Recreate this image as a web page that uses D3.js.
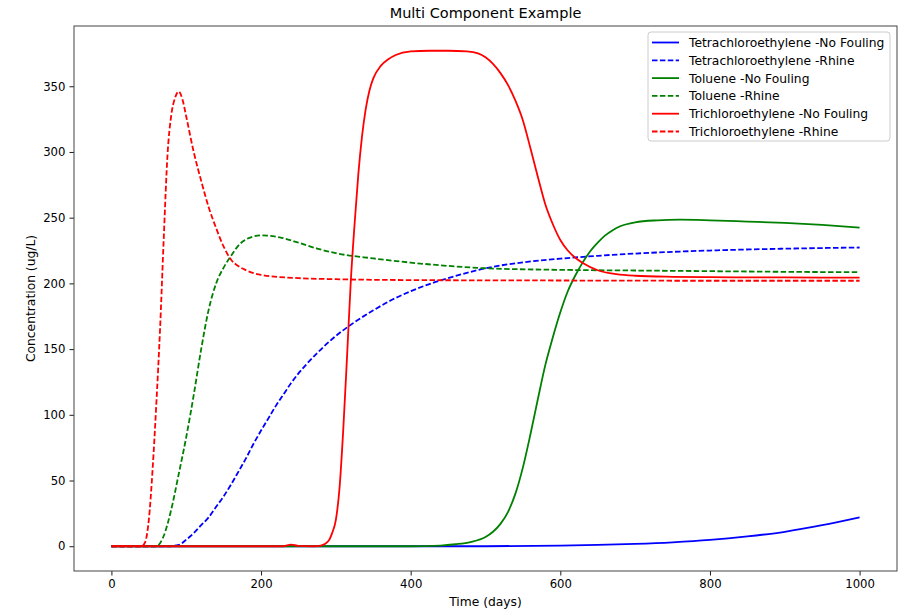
<!DOCTYPE html>
<html>
<head>
<meta charset="utf-8">
<script src="https://cdn.jsdelivr.net/npm/d3@7"></script>
<style>
  body { margin: 0; background: #fff; }
  text { font-family: "DejaVu Sans", sans-serif; fill: #000; }
</style>
</head>
<body>
<div id="chart"></div>
<script>
var svgWidth = 907;
var svgHeight = 610;

var margin = { top: 26, right: 10, bottom: 39, left: 74 };
var width = svgWidth - margin.left - margin.right;
var height = svgHeight - margin.top - margin.bottom;

// Series data (time in days, concentration in ug/L)
var tceRhineT = [0, 40, 45, 50, 55, 60, 65, 70, 75, 80, 85, 90, 95, 100, 110, 120, 130, 140, 150, 160, 170, 180, 200, 250, 300, 400, 600, 800, 1000];
var tceRhineV = [0, 0, 3, 20, 58, 108, 165, 235, 298, 328, 341, 346, 340, 327, 300, 278, 258, 242, 228, 218, 213, 210, 206.5, 204, 203.2, 202.5, 202.2, 202, 202];

var tceNoFoulT = [0, 230, 240, 250, 270, 280, 290, 295, 300, 305, 310, 315, 320, 325, 330, 335, 340, 345, 350, 360, 370, 380, 400, 425, 450, 475, 490, 500, 510, 520, 530, 540, 550, 560, 570, 580, 590, 600, 610, 620, 630, 650, 675, 700, 750, 800, 900, 1000];
var tceNoFoulV = [0, 0, 1.2, 0.3, 0, 0.5, 4, 10, 20, 45, 90, 145, 202, 245, 283, 312, 333, 347, 356, 365.5, 370.5, 373.8, 376.5, 377, 377, 376.5, 375, 372, 367, 360, 351, 339, 324, 303, 281, 260, 245, 233, 225, 219.5, 215.5, 210, 207, 205.8, 205, 204.7, 204.5, 204.4];

var tolRhineT = [0, 60, 70, 80, 90, 100, 110, 120, 130, 140, 150, 160, 170, 180, 190, 200, 210, 225, 250, 275, 300, 350, 400, 450, 500, 600, 700, 800, 900, 1000];
var tolRhineV = [0, 0, 8, 28, 55, 83, 115, 150, 180, 200, 212, 221, 229, 233.5, 235.7, 236.5, 236.3, 235, 231, 226.5, 223, 219, 215.8, 213.3, 211.5, 210.3, 209.8, 209.3, 208.8, 208.5];

var tolNoFoulT = [0, 400, 440, 460, 480, 500, 510, 520, 530, 540, 550, 560, 570, 580, 590, 600, 610, 620, 630, 640, 650, 660, 670, 680, 700, 730, 760, 800, 850, 900, 950, 1000];
var tolNoFoulV = [0, 0, 0.5, 1.5, 3.2, 7, 11, 17, 26, 40, 60, 85, 112, 138, 159, 178, 194, 206, 216, 224.5, 231, 236.5, 240.5, 243.5, 246.5, 248, 248.5, 248, 247, 246, 244.5, 242.5];

var pceRhineT = [0, 75, 90, 100, 110, 120, 130, 140, 150, 160, 170, 180, 190, 200, 210, 220, 230, 240, 250, 260, 275, 300, 325, 350, 375, 400, 425, 450, 475, 500, 550, 600, 650, 700, 750, 800, 850, 900, 950, 1000];
var pceRhineV = [0, 0, 1, 5, 10, 16, 22, 30, 38, 47, 57, 67, 78, 88, 97.5, 107, 115.5, 124, 131.5, 138, 147, 160, 170.5, 179.5, 187.5, 194, 199.5, 204, 208, 211.5, 216, 218.8, 221, 222.7, 224, 225, 225.8, 226.4, 226.9, 227.3];

var pceNoFoulT = [0, 500, 600, 650, 700, 750, 800, 850, 900, 950, 1000];
var pceNoFoulV = [0, 0, 0.5, 1, 1.8, 3, 4.8, 7.5, 11, 16, 22];

var seriesNames = ["Tetrachloroethylene -No Fouling", "Tetrachloroethylene -Rhine",
  "Toluene -No Fouling", "Toluene -Rhine",
  "Trichloroethylene -No Fouling", "Trichloroethylene -Rhine"];
var seriesColors = ["#0000ff", "#0000ff", "#008000", "#008000", "#ff0000", "#ff0000"];
var seriesDashed = [false, true, false, true, false, true];
var seriesTimes = [pceNoFoulT, pceRhineT, tolNoFoulT, tolRhineT, tceNoFoulT, tceRhineT];
var seriesValues = [pceNoFoulV, pceRhineV, tolNoFoulV, tolRhineV, tceNoFoulV, tceRhineV];

var xTicks = [0, 200, 400, 600, 800, 1000];
var yTicks = [0, 50, 100, 150, 200, 250, 300, 350];

var svg = d3.select("#chart")
  .append("svg")
  .attr("width", svgWidth)
  .attr("height", svgHeight);

var chartGroup = svg.append("g")
  .attr("transform", `translate(${margin.left}, ${margin.top})`);

// matplotlib-like 5% padding on both axes
var xLinearScale = d3.scaleLinear()
  .domain([-50, 1050])
  .range([0, width]);

var yLinearScale = d3.scaleLinear()
  .domain([-18.85, 395.85])
  .range([height, 0]);

var lineGen = d3.line()
  .x(d => xLinearScale(d[0]))
  .y(d => yLinearScale(d[1]))
  .curve(d3.curveMonotoneX);

svg.append("defs").append("clipPath")
  .attr("id", "plotClip")
  .append("rect")
  .attr("width", width)
  .attr("height", height);

var linesGroup = chartGroup.append("g")
  .attr("clip-path", "url(#plotClip)");

seriesNames.forEach(function(name, i) {
  var pts = seriesTimes[i].map((t, j) => [t, seriesValues[i][j]]);
  linesGroup.append("path")
    .datum(pts)
    .attr("fill", "none")
    .attr("stroke", seriesColors[i])
    .attr("stroke-width", 1.8)
    .attr("stroke-dasharray", seriesDashed[i] ? "5.5,2.4" : null)
    .attr("d", lineGen);
});

// axes
var bottomAxis = d3.axisBottom(xLinearScale)
  .tickValues(xTicks)
  .tickSize(4.5)
  .tickPadding(4)
  .tickFormat(d3.format("d"));
var leftAxis = d3.axisLeft(yLinearScale)
  .tickValues(yTicks)
  .tickSize(4.5)
  .tickPadding(4)
  .tickFormat(d3.format("d"));

var xAxis = chartGroup.append("g")
  .attr("transform", `translate(0, ${height})`)
  .call(bottomAxis);
var yAxis = chartGroup.append("g")
  .call(leftAxis);

[xAxis, yAxis].forEach(function(ax) {
  ax.select(".domain").remove();
  ax.selectAll("line").attr("stroke", "#000").attr("stroke-width", 0.9);
  ax.selectAll("text").style("font-size", "11.7px").attr("fill", "#000");
});

// frame
chartGroup.append("rect")
  .attr("width", width)
  .attr("height", height)
  .attr("fill", "none")
  .attr("stroke", "#444")
  .attr("stroke-width", 1);

// labels
chartGroup.append("text")
  .attr("x", width / 2)
  .attr("y", -8)
  .attr("text-anchor", "middle")
  .style("font-size", "14.5px")
  .text("Multi Component Example");

chartGroup.append("text")
  .attr("x", width / 2)
  .attr("y", height + 35)
  .attr("text-anchor", "middle")
  .style("font-size", "12.3px")
  .text("Time (days)");

chartGroup.append("text")
  .attr("transform", `translate(-39, ${height / 2})rotate(-90)`)
  .attr("text-anchor", "middle")
  .style("font-size", "12.3px")
  .text("Concentration (ug/L)");

// legend
var legendGroup = chartGroup.append("g")
  .attr("transform", `translate(${648 - margin.left}, ${32 - margin.top})`);

legendGroup.append("rect")
  .attr("width", 242)
  .attr("height", 109)
  .attr("rx", 3)
  .attr("fill", "#fff")
  .attr("fill-opacity", 0.8)
  .attr("stroke", "#ccc")
  .attr("stroke-width", 1);

seriesNames.forEach(function(name, i) {
  var yRow = 10.5 + i * 17.8;
  legendGroup.append("line")
    .attr("x1", 4)
    .attr("x2", 31)
    .attr("y1", yRow)
    .attr("y2", yRow)
    .attr("stroke", seriesColors[i])
    .attr("stroke-width", 1.8)
    .attr("stroke-dasharray", seriesDashed[i] ? "5.5,2.4" : null);
  legendGroup.append("text")
    .attr("x", 41)
    .attr("y", yRow + 4.5)
    .style("font-size", "12.3px")
    .text(name);
});
</script>
</body>
</html>
